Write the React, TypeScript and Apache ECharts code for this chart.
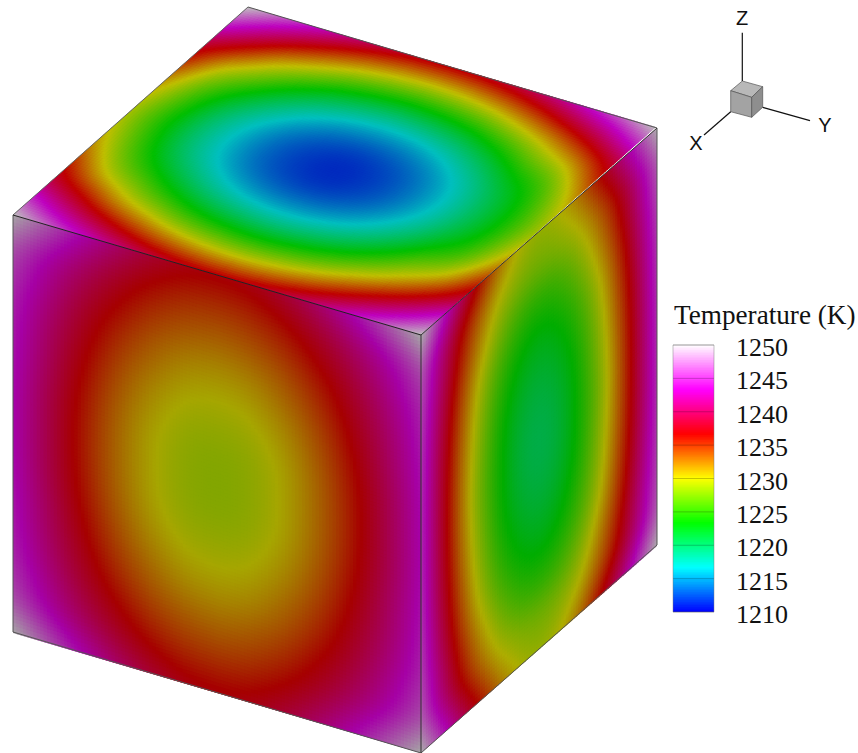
import React, { useEffect, useRef } from "react";
import * as echarts from "echarts";

// Temperature (K) on a 13 x 13 lattice of each face.
const topFace = [
  [1250,1246.6,1243.5,1240.8,1238.7,1237.4,1237,1237.4,1238.7,1240.8,1243.5,1246.6,1250],
  [1244.5,1240.7,1237.3,1234.5,1232.3,1230.9,1230.4,1230.9,1232.3,1234.5,1237.3,1240.5,1244.5],
  [1239,1235.2,1231.4,1228.6,1226.2,1224.8,1224.25,1224.8,1226.2,1228.6,1231.4,1234.8,1239],
  [1235.3,1230.2,1226.7,1223.5,1221,1219.5,1218.9,1219.5,1221,1223.5,1226.7,1229.8,1235.3],
  [1232,1226.9,1222.9,1219.6,1217,1215.4,1214.9,1215.4,1217,1219.6,1222.9,1226.2,1232],
  [1229.9,1225,1220.5,1217.1,1214.5,1212.9,1212.3,1212.9,1214.5,1217.1,1220.5,1224.3,1229.9],
  [1229,1224.2,1219.75,1216.3,1213.7,1212.1,1211.5,1212.1,1213.7,1216.3,1219.75,1223.7,1229],
  [1229.9,1225,1220.5,1217.1,1214.5,1212.9,1212.3,1212.9,1214.5,1217.1,1220.5,1224.3,1229.9],
  [1232,1226.9,1222.9,1219.6,1217,1215.4,1214.9,1215.4,1217,1219.6,1222.9,1226.2,1232],
  [1235.3,1230.2,1226.7,1223.5,1221,1219.5,1218.9,1219.5,1221,1223.5,1226.7,1229.8,1235.3],
  [1239,1235.2,1231.4,1228.6,1226.2,1224.8,1224.25,1224.8,1226.2,1228.6,1231.4,1234.8,1239],
  [1244.5,1240.7,1237.3,1234.5,1232.3,1230.9,1230.4,1230.9,1232.3,1234.5,1237.3,1240.5,1244.5],
  [1250,1246.6,1243.5,1240.8,1238.7,1237.4,1237,1237.4,1238.7,1240.8,1243.5,1246.6,1250],
];
const leftFace = [
  [1250,1246.6,1243.5,1240.8,1238.7,1237.4,1237,1237.4,1238.7,1240.8,1243.5,1246.6,1250],
  [1246.5,1243.4,1240.6,1238.2,1236.3,1235.1,1234.7,1235.1,1236.3,1238.2,1240.6,1243.4,1246.5],
  [1245,1241.8,1238.8,1236.3,1234.3,1233.1,1232.65,1233.1,1234.3,1236.3,1238.8,1241.8,1245],
  [1244.3,1240.8,1237.6,1234.8,1232.7,1231.3,1230.85,1231.3,1232.7,1234.8,1237.6,1240.8,1244.3],
  [1243.9,1240.2,1236.7,1233.7,1231.4,1230,1229.6,1230,1231.4,1233.7,1236.7,1240.2,1243.9],
  [1243.6,1239.7,1236.1,1233,1230.6,1229.2,1228.8,1229.2,1230.6,1233,1236.1,1239.7,1243.6],
  [1243.5,1239.6,1235.9,1232.8,1230.4,1229,1228.6,1229,1230.4,1232.8,1235.9,1239.6,1243.5],
  [1243.6,1239.7,1236.1,1233,1230.6,1229.2,1228.8,1229.2,1230.6,1233,1236.1,1239.7,1243.6],
  [1243.9,1240.2,1236.7,1233.7,1231.4,1230,1229.6,1230,1231.4,1233.7,1236.7,1240.2,1243.9],
  [1244.3,1240.8,1237.6,1234.8,1232.7,1231.3,1230.85,1231.3,1232.7,1234.8,1237.6,1240.8,1244.3],
  [1245,1241.8,1238.8,1236.3,1234.3,1233.1,1232.65,1233.1,1234.3,1236.3,1238.8,1241.8,1245],
  [1246.5,1243.4,1240.6,1238.2,1236.3,1235.1,1234.7,1235.1,1236.3,1238.2,1240.6,1243.4,1246.5],
  [1250,1246.6,1243.5,1240.8,1238.7,1237.4,1237,1237.4,1238.7,1240.8,1243.5,1246.6,1250],
];
const rightFace = [
  [1250,1245,1240.2,1236,1232.3,1229.9,1229,1229.9,1232.3,1236,1240.2,1245,1250],
  [1247,1241.9,1237.1,1233.1,1229.9,1228.1,1227.5,1228.1,1229.9,1233.1,1237.1,1241.9,1247],
  [1246,1240.6,1235.5,1231.2,1227.8,1225.7,1225,1225.7,1227.8,1231.2,1235.5,1240.6,1246],
  [1245.5,1239.7,1234.3,1229.6,1226,1223.8,1223,1223.8,1226,1229.6,1234.3,1239.7,1245.5],
  [1245.2,1239.1,1233.5,1228.6,1224.8,1222.5,1221.7,1222.5,1224.8,1228.6,1233.5,1239.1,1245.2],
  [1245,1238.8,1233,1228,1224.1,1221.7,1220.9,1221.7,1224.1,1228,1233,1238.8,1245],
  [1245,1238.7,1232.8,1227.7,1223.9,1221.4,1220.6,1221.4,1223.9,1227.7,1232.8,1238.7,1245],
  [1245,1238.8,1233,1228,1224.1,1221.7,1220.9,1221.7,1224.1,1228,1233,1238.8,1245],
  [1245.2,1239.1,1233.5,1228.6,1224.8,1222.5,1221.7,1222.5,1224.8,1228.6,1233.5,1239.1,1245.2],
  [1245.5,1239.7,1234.3,1229.6,1226,1223.8,1223,1223.8,1226,1229.6,1234.3,1239.7,1245.5],
  [1246,1240.6,1235.5,1231.2,1227.8,1225.7,1225,1225.7,1227.8,1231.2,1235.5,1240.6,1246],
  [1247,1241.9,1237.1,1233.1,1229.9,1228.1,1227.5,1228.1,1229.9,1233.1,1237.1,1241.9,1247],
  [1250,1245,1240.2,1236,1232.3,1229.9,1229,1229.9,1232.3,1236,1240.2,1245,1250],
];
const legendTicks = [1210, 1215, 1220, 1225, 1230, 1235, 1240, 1245, 1250];
const colorStops: number[][] = [
  [1210, 0, 0, 255], [1216.67, 0, 255, 255], [1223.33, 0, 255, 0], [1230, 255, 255, 0],
  [1236.67, 255, 0, 0], [1243.33, 255, 0, 255], [1250, 255, 255, 255],
];

const OVERLAP = 0.7;

function tempColor(t: number, shade: number) {
  const v = Math.max(1210, Math.min(1250, t));
  let k = 0;
  while (k < colorStops.length - 2 && v > colorStops[k + 1][0]) k++;
  const a = colorStops[k], b = colorStops[k + 1];
  const f = (v - a[0]) / (b[0] - a[0]);
  const c = (n: number) => Math.round((a[n] + (b[n] - a[n]) * f) * shade);
  return `rgb(${c(1)},${c(2)},${c(3)})`;
}
function cr(p0: number, p1: number, p2: number, p3: number, t: number) {
  return 0.5 * (2 * p1 + (p2 - p0) * t + (2 * p0 - 5 * p1 + 4 * p2 - p3) * t * t + (3 * p1 - p0 - 3 * p2 + p3) * t * t * t);
}
function sample(tb: number[][], i: number, j: number, fx: number, fy: number) {
  const n = tb.length - 1;
  const at = (y: number, x: number) => {
    const cx = Math.max(0, Math.min(n, x)), cy = Math.max(0, Math.min(n, y));
    let val = tb[cy][cx];
    if (x < 0) val = 2 * tb[cy][0] - tb[cy][1];
    if (x > n) val = 2 * tb[cy][n] - tb[cy][n - 1];
    if (y < 0) val = 2 * tb[0][cx] - tb[1][cx];
    if (y > n) val = 2 * tb[n][cx] - tb[n - 1][cx];
    return val;
  };
  const row = (y: number) => cr(at(y, i - 1), at(y, i), at(y, i + 1), at(y, i + 2), fx);
  return cr(row(j - 1), row(j), row(j + 1), row(j + 2), fy);
}

function faceSeries(name: string, tb: number[][], o: number[], du: number[], dv: number[], shade: number, subU: number, subV: number) {
  const cells: number[][] = [];
  for (let j = 0; j < 12; j++) for (let i = 0; i < 12; i++) cells.push([i, j, tb[j][i]]);
  return {
    type: "custom", name, coordinateSystem: "cartesian2d", xAxisIndex: 0, yAxisIndex: 0,
    silent: true, progressive: 0, clip: false, data: cells, encode: { x: 0, y: 1 },
    renderItem: (_p: any, api: any) => {
      const i = api.value(0), j = api.value(1);
      const children: any[] = [];
      const pt = (a: number, b: number) => {
        const u = Math.min(1, (i + a / subU) / 12), v = Math.min(1, (j + b / subV) / 12);
        return api.coord([o[0] + u * du[0] + v * dv[0], o[1] + u * du[1] + v * dv[1]]);
      };
      for (let b = 0; b < subV; b++) for (let a = 0; a < subU; a++) {
        const fill = tempColor(sample(tb, i, j, (a + 0.5) / subU, (b + 0.5) / subV), shade);
        // Each little quad runs under the ones painted after it, so no seam shows.
        const a2 = a + 1 + OVERLAP, b2 = b + 1 + OVERLAP;
        children.push({
          type: "polygon",
          shape: { points: [pt(a, b), pt(a2, b), pt(a2, b2), pt(a, b2)] },
          style: { fill, stroke: "none" },
        });
      }
      return { type: "group", children };
    },
  };
}

export default function App() {
  const ref = useRef<HTMLDivElement>(null);
  useEffect(() => {
    const chart = echarts.init(ref.current!, undefined, { renderer: "svg" });
    const levels: number[][] = [];
    for (let t = 1210; t < 1250; t += 0.25) levels.push([t]);
    const line = (x1: number, y1: number, x2: number, y2: number, stroke: string, lineWidth = 1) => ({
      type: "line", silent: true, z: 20, shape: { x1, y1, x2, y2 }, style: { stroke, lineWidth },
    });
    const poly = (points: number[][], fill: string) => ({
      type: "polygon", silent: true, z: 20, shape: { points }, style: { fill, stroke: "#555", lineWidth: 0.7 },
    });
    const label = (text: string, x: number, y: number) => ({
      type: "text", silent: true, z: 20, x, y,
      style: { text, fill: "#111", font: '20px "Liberation Sans"', align: "center", verticalAlign: "middle" },
    });
    chart.setOption({
      animation: false,
      backgroundColor: "#fff",
      grid: [
        { left: 0, top: 0, width: 858, height: 753 },
        { left: 673, top: 345, width: 41, height: 267 },
        { left: 673, top: 347.5, width: 41, height: 267 },
      ],
      xAxis: [
        { type: "value", min: 0, max: 858, show: false, gridIndex: 0 },
        { type: "value", min: 0, max: 1, show: false, gridIndex: 1 },
        { type: "value", min: 0, max: 1, show: false, gridIndex: 2 },
      ],
      yAxis: [
        { type: "value", min: 0, max: 753, inverse: true, show: false, gridIndex: 0 },
        { type: "value", min: 1210, max: 1250, show: false, gridIndex: 1 },
        {
          type: "value", min: 1210, max: 1250, interval: 5, gridIndex: 2, position: "right",
          axisLine: { show: false }, axisTick: { show: false }, splitLine: { show: false },
          axisLabel: { margin: 22, color: "#111", fontFamily: "Liberation Serif", fontSize: 26, formatter: (v: number) => String(v) },
        },
      ],
      series: [
        faceSeries("top", topFace, [13, 215], [408, 120], [235, -208], 0.75, 12, 10),
        faceSeries("left", leftFace, [13, 215], [408, 120], [0, 418], 0.65, 10, 10),
        faceSeries("right", rightFace, [421, 335], [236, -207], [0, 418], 0.68, 8, 10),
        {
          type: "custom", name: "legend", xAxisIndex: 1, yAxisIndex: 1, silent: true, data: levels,
          encode: { y: 0 },
          renderItem: (_p: any, api: any) => {
            const t = api.value(0);
            const a = api.coord([0, t]), b = api.coord([1, t + 0.25]);
            const top = t >= 1249.75 ? b[1] : b[1] - 1;
            return { type: "rect", shape: { x: a[0], y: top, width: b[0] - a[0], height: a[1] - top }, style: { fill: tempColor(t + 0.125, 1), stroke: "none" } };
          },
        },
        {
          type: "custom", name: "legendTicks", xAxisIndex: 1, yAxisIndex: 1, silent: true, z: 5,
          data: legendTicks.map((t) => [t]), encode: { y: 0 },
          renderItem: (_p: any, api: any) => {
            const t = api.value(0);
            const a = api.coord([0, t]), b = api.coord([1, t]);
            return { type: "line", shape: { x1: a[0], y1: a[1], x2: b[0], y2: b[1] }, style: { stroke: "rgba(0,0,0,0.22)", lineWidth: 1 } };
          },
        },
      ],
      graphic: [
        line(13, 215, 248, 7, "#666"), line(248, 7, 657, 128, "#555"), line(657, 128, 657, 545, "#555"),
        line(657, 545, 421, 753, "#555"), line(421, 753, 13, 632, "#555"), line(13, 632, 13, 215, "#555"),
        line(13, 215, 421, 335, "#222"), line(421, 335, 657, 128, "#333"), line(421, 335, 421, 753, "#333"),
        poly([[742.3, 81], [762.7, 86.7], [751.7, 97.3], [730.7, 90.7]], "#b8b8b8"),
        poly([[730.7, 90.7], [751.7, 97.3], [751.7, 117.3], [730.7, 111.7]], "#a3a3a3"),
        poly([[751.7, 97.3], [762.7, 86.7], [762.7, 107.3], [751.7, 117.3]], "#8e8e8e"),
        line(742.3, 32.7, 742.3, 81, "#111", 1.2), line(762.7, 107.3, 810, 120.7, "#111", 1.2), line(730.7, 111.7, 704, 135, "#111", 1.2),
        label("Z", 742, 18), label("Y", 825, 125), label("X", 696, 143),
        {
          type: "text", silent: true, z: 20, x: 674, y: 315,
          style: { text: "Temperature (K)", fill: "#111", font: '27.2px "Liberation Serif"', align: "left", verticalAlign: "middle" },
        },
        {
          type: "rect", silent: true, z: 20, shape: { x: 673, y: 345, width: 41, height: 267 },
          style: { fill: "none", stroke: "rgba(120,120,120,0.45)", lineWidth: 1 },
        },
      ],
    });
    return () => chart.dispose();
  }, []);
  return <div ref={ref} style={{ position: "absolute", left: 0, top: 0, width: 858, height: 753 }} />;
}
